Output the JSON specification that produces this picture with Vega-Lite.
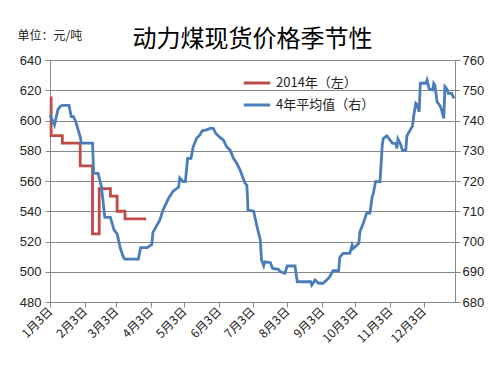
{
  "$schema": "https://vega.github.io/schema/vega-lite/v6.json",
  "width": 405,
  "height": 242,
  "autosize": "none",
  "padding": {"left": 50, "top": 60, "right": 45, "bottom": 69},
  "background": "white",
  "config": {
    "view": {"stroke": null},
    "font": "Noto Sans CJK SC",
    "axis": {"labelFont": "Liberation Sans", "labelColor": "#222", "domainColor": "#888", "tickColor": "#888", "gridColor": "#888", "tickSize": 5}
  },
  "title": {"text": "动力煤现货价格季节性", "fontSize": 24, "fontWeight": "normal", "color": "#000", "offset": -23, "anchor": "middle", "font": "Noto Sans CJK SC"},
  "datasets": {
    "red": [
      {"date": "2014-01-03", "price": 615},
      {"date": "2014-01-04", "price": 590},
      {"date": "2014-01-14", "price": 585},
      {"date": "2014-01-30", "price": 570},
      {"date": "2014-02-10", "price": 525},
      {"date": "2014-02-16", "price": 555},
      {"date": "2014-02-26", "price": 550},
      {"date": "2014-03-04", "price": 540},
      {"date": "2014-03-11", "price": 535},
      {"date": "2014-03-30", "price": 535}
    ],
    "blue": [
      {"date": "2014-01-03", "avg": 741.8},
      {"date": "2014-01-07", "avg": 738.5},
      {"date": "2014-01-10", "avg": 743.5},
      {"date": "2014-01-12", "avg": 744.6},
      {"date": "2014-01-14", "avg": 745},
      {"date": "2014-01-20", "avg": 745},
      {"date": "2014-01-22", "avg": 741.3},
      {"date": "2014-01-24", "avg": 741.3},
      {"date": "2014-01-26", "avg": 739.6},
      {"date": "2014-01-30", "avg": 734.6},
      {"date": "2014-01-31", "avg": 732.5},
      {"date": "2014-02-10", "avg": 732.5},
      {"date": "2014-02-11", "avg": 722.5},
      {"date": "2014-02-15", "avg": 722.5},
      {"date": "2014-02-18", "avg": 718},
      {"date": "2014-02-21", "avg": 708},
      {"date": "2014-02-26", "avg": 708},
      {"date": "2014-03-01", "avg": 704},
      {"date": "2014-03-04", "avg": 702.5},
      {"date": "2014-03-07", "avg": 697.5},
      {"date": "2014-03-10", "avg": 694.5},
      {"date": "2014-03-11", "avg": 694.2},
      {"date": "2014-03-23", "avg": 694.2},
      {"date": "2014-03-25", "avg": 698},
      {"date": "2014-03-31", "avg": 698},
      {"date": "2014-04-04", "avg": 699},
      {"date": "2014-04-05", "avg": 703},
      {"date": "2014-04-08", "avg": 705},
      {"date": "2014-04-11", "avg": 707},
      {"date": "2014-04-14", "avg": 710.4},
      {"date": "2014-04-19", "avg": 714.3},
      {"date": "2014-04-23", "avg": 716.6},
      {"date": "2014-04-28", "avg": 718},
      {"date": "2014-04-29", "avg": 721},
      {"date": "2014-05-02", "avg": 719.8},
      {"date": "2014-05-04", "avg": 719.8},
      {"date": "2014-05-06", "avg": 727.5},
      {"date": "2014-05-09", "avg": 727.5},
      {"date": "2014-05-11", "avg": 731.3},
      {"date": "2014-05-14", "avg": 734.1},
      {"date": "2014-05-17", "avg": 735.2},
      {"date": "2014-05-19", "avg": 736.6},
      {"date": "2014-05-23", "avg": 736.9},
      {"date": "2014-05-26", "avg": 737.4},
      {"date": "2014-05-29", "avg": 737.4},
      {"date": "2014-05-31", "avg": 735.8},
      {"date": "2014-06-04", "avg": 734.4},
      {"date": "2014-06-07", "avg": 733.5},
      {"date": "2014-06-10", "avg": 731.3},
      {"date": "2014-06-13", "avg": 730.2},
      {"date": "2014-06-16", "avg": 727.5},
      {"date": "2014-06-19", "avg": 725.8},
      {"date": "2014-06-22", "avg": 723.5},
      {"date": "2014-06-26", "avg": 719.5},
      {"date": "2014-06-28", "avg": 718.5},
      {"date": "2014-06-29", "avg": 710.4},
      {"date": "2014-07-04", "avg": 710},
      {"date": "2014-07-07", "avg": 705},
      {"date": "2014-07-10", "avg": 700.5},
      {"date": "2014-07-11", "avg": 694},
      {"date": "2014-07-13", "avg": 692},
      {"date": "2014-07-14", "avg": 693.3},
      {"date": "2014-07-19", "avg": 693},
      {"date": "2014-07-21", "avg": 691.1},
      {"date": "2014-07-26", "avg": 690.8},
      {"date": "2014-07-28", "avg": 690},
      {"date": "2014-08-01", "avg": 689.5},
      {"date": "2014-08-03", "avg": 691.9},
      {"date": "2014-08-10", "avg": 691.9},
      {"date": "2014-08-12", "avg": 686.7},
      {"date": "2014-08-24", "avg": 686.7},
      {"date": "2014-08-25", "avg": 685.6},
      {"date": "2014-08-28", "avg": 687.3},
      {"date": "2014-08-31", "avg": 686.2},
      {"date": "2014-09-04", "avg": 686.2},
      {"date": "2014-09-08", "avg": 687.5},
      {"date": "2014-09-10", "avg": 688.4},
      {"date": "2014-09-13", "avg": 690.4},
      {"date": "2014-09-18", "avg": 690.4},
      {"date": "2014-09-19", "avg": 694.8},
      {"date": "2014-09-22", "avg": 696.1},
      {"date": "2014-09-28", "avg": 696.1},
      {"date": "2014-09-30", "avg": 698.8},
      {"date": "2014-10-01", "avg": 697.7},
      {"date": "2014-10-06", "avg": 699.4},
      {"date": "2014-10-07", "avg": 703.2},
      {"date": "2014-10-10", "avg": 706},
      {"date": "2014-10-13", "avg": 709.3},
      {"date": "2014-10-16", "avg": 709.4},
      {"date": "2014-10-18", "avg": 714.8},
      {"date": "2014-10-19", "avg": 715.9},
      {"date": "2014-10-21", "avg": 719.8},
      {"date": "2014-10-25", "avg": 719.8},
      {"date": "2014-10-27", "avg": 731.9},
      {"date": "2014-10-28", "avg": 734.1},
      {"date": "2014-10-31", "avg": 734.9},
      {"date": "2014-11-03", "avg": 733.5},
      {"date": "2014-11-05", "avg": 732.5},
      {"date": "2014-11-08", "avg": 732.4},
      {"date": "2014-11-09", "avg": 730.8},
      {"date": "2014-11-10", "avg": 733.9},
      {"date": "2014-11-12", "avg": 732.5},
      {"date": "2014-11-14", "avg": 730.2},
      {"date": "2014-11-17", "avg": 730.1},
      {"date": "2014-11-18", "avg": 734.9},
      {"date": "2014-11-21", "avg": 736.9},
      {"date": "2014-11-23", "avg": 738.2},
      {"date": "2014-11-24", "avg": 741.3},
      {"date": "2014-11-26", "avg": 745.7},
      {"date": "2014-11-27", "avg": 745.3},
      {"date": "2014-11-29", "avg": 742.9},
      {"date": "2014-11-30", "avg": 752.3},
      {"date": "2014-12-03", "avg": 752.4},
      {"date": "2014-12-05", "avg": 752.3},
      {"date": "2014-12-06", "avg": 753.4},
      {"date": "2014-12-08", "avg": 750.3},
      {"date": "2014-12-11", "avg": 750.1},
      {"date": "2014-12-12", "avg": 752.3},
      {"date": "2014-12-13", "avg": 751.7},
      {"date": "2014-12-15", "avg": 746.2},
      {"date": "2014-12-18", "avg": 744.6},
      {"date": "2014-12-19", "avg": 743.5},
      {"date": "2014-12-21", "avg": 740.7},
      {"date": "2014-12-22", "avg": 751.2},
      {"date": "2014-12-24", "avg": 750.3},
      {"date": "2014-12-25", "avg": 749},
      {"date": "2014-12-28", "avg": 749},
      {"date": "2014-12-30", "avg": 747.3}
    ]
  },
  "encoding": {
    "x": {
      "field": "date", "type": "temporal",
      "scale": {"type": "utc", "domain": [{"year": 2014, "month": 1, "date": 3, "utc": true}, {"year": 2014, "month": 12, "date": 31, "utc": true}]},
      "axis": {
        "title": null, "grid": false, "format": "%-m月%-d日", "labelAngle": -45, "labelAlign": "right", "labelBaseline": "middle",
        "labelFont": "Noto Sans CJK SC", "labelFontSize": 12, "labelPadding": 2, "labelOverlap": false, "labelFlush": false, "labelBound": false,
        "values": [
          {"year": 2014, "month": 1, "date": 3, "utc": true},
          {"year": 2014, "month": 2, "date": 3, "utc": true},
          {"year": 2014, "month": 3, "date": 3, "utc": true},
          {"year": 2014, "month": 4, "date": 3, "utc": true},
          {"year": 2014, "month": 5, "date": 3, "utc": true},
          {"year": 2014, "month": 6, "date": 3, "utc": true},
          {"year": 2014, "month": 7, "date": 3, "utc": true},
          {"year": 2014, "month": 8, "date": 3, "utc": true},
          {"year": 2014, "month": 9, "date": 3, "utc": true},
          {"year": 2014, "month": 10, "date": 3, "utc": true},
          {"year": 2014, "month": 11, "date": 3, "utc": true},
          {"year": 2014, "month": 12, "date": 3, "utc": true}
        ]
      }
    }
  },
  "layer": [
    {
      "data": {"name": "red"},
      "mark": {"type": "line", "interpolate": "step-after", "strokeWidth": 2.8},
      "encoding": {
        "y": {
          "field": "price", "type": "quantitative",
          "scale": {"domain": [480, 640], "nice": false, "zero": false},
          "axis": {
            "values": [480, 500, 520, 540, 560, 580, 600, 620, 640], "labelFontSize": 13, "labelPadding": 4,
            "title": "单位：元/吨", "titleAngle": 0, "titleAlign": "left", "titleBaseline": "alphabetic", "titleX": -33, "titleY": -21,
            "titleFont": "Noto Sans CJK SC", "titleFontSize": 12, "titleFontWeight": "normal", "titleColor": "#222"
          }
        },
        "color": {
          "datum": "2014年（左）",
          "scale": {"domain": ["2014年（左）", "4年平均值（右）"], "range": ["#BE4B48", "#4A7EBB"]},
          "legend": {
            "title": null, "orient": "none", "legendX": 192, "legendY": 8, "symbolType": "stroke", "symbolSize": 700,
            "symbolStrokeWidth": 3, "labelFontSize": 13, "labelFont": "Noto Sans CJK SC", "labelColor": "#222", "rowPadding": 0, "labelOffset": 4
          }
        }
      }
    },
    {
      "data": {"name": "blue"},
      "mark": {"type": "line", "strokeWidth": 2.8},
      "encoding": {
        "y": {
          "field": "avg", "type": "quantitative",
          "scale": {"domain": [680, 760], "nice": false, "zero": false},
          "axis": {"orient": "right", "grid": false, "title": null, "values": [680, 690, 700, 710, 720, 730, 740, 750, 760], "labelFontSize": 13, "labelPadding": 2}
        },
        "color": {"datum": "4年平均值（右）"}
      }
    }
  ],
  "resolve": {"scale": {"y": "independent"}}
}
